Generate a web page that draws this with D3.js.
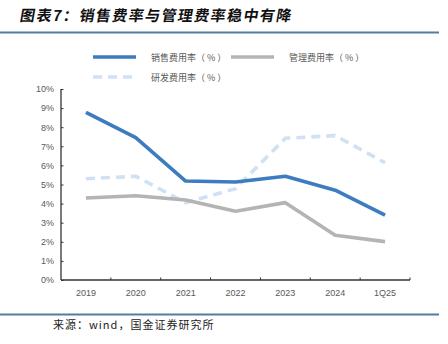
<!DOCTYPE html>
<html>
<head>
<meta charset="utf-8">
<script src="https://cdn.jsdelivr.net/npm/d3@7/dist/d3.min.js"></script>
<style>
  html, body { margin: 0; padding: 0; background: #fff; }
  svg { display: block; }
</style>
</head>
<body>
<svg id="chart" width="448" height="344"></svg>
<script>
// Expense ratios by year (%)
const categories = ["2019", "2020", "2021", "2022", "2023", "2024", "1Q25"];
const salesRate = [8.78, 7.45, 5.18, 5.13, 5.43, 4.70, 3.40];
const adminRate = [4.29, 4.41, 4.19, 3.60, 4.05, 2.34, 2.01];
const rdRate    = [5.30, 5.43, 4.05, 4.78, 7.42, 7.56, 6.14];
const yTicks = [0, 1, 2, 3, 4, 5, 6, 7, 8, 9, 10];

const seriesNames = ["销售费用率（ % ）", "管理费用率（ % ）", "研发费用率（ % ）"];
const seriesValues = [salesRate, adminRate, rdRate];
const seriesColors = ["#3d7cbf", "#b4b4b4", "#cfe1f3"];
const seriesDash = [null, null, "9,6"];

const svg = d3.select("#chart");
const cjk = "'Noto Sans CJK SC', 'Noto Sans', sans-serif";

// Header
svg.append("text")
  .attr("x", 20).attr("y", 21)
  .attr("font-family", cjk)
  .attr("font-size", 15)
  .attr("font-weight", "bold")
  .attr("letter-spacing", 1.4)
  .attr("fill", "#111")
  .attr("transform", "translate(3,0) skewX(-10)")
  .text("图表7：销售费率与管理费率稳中有降");
svg.append("line")
  .attr("x1", 0).attr("x2", 439).attr("y1", 32.5).attr("y2", 32.5)
  .attr("stroke", "#4f7f9b").attr("stroke-width", 2);

// Footer
svg.append("line")
  .attr("x1", 0).attr("x2", 439).attr("y1", 314.5).attr("y2", 314.5)
  .attr("stroke", "#4f7f9b").attr("stroke-width", 2);
svg.append("text")
  .attr("x", 53).attr("y", 328.5)
  .attr("font-family", "'Noto Sans CJK SC', sans-serif")
  .attr("font-size", 11)
  .attr("letter-spacing", 1)
  .attr("fill", "#222")
  .text("来源：wind，国金证券研究所");

// Plot area
const plotLeft = 61, plotRight = 410, plotTop = 89, plotBottom = 280;
const x = d3.scaleBand().domain(categories).range([plotLeft, plotRight]);
const y = d3.scaleLinear().domain([0, 10]).range([plotBottom, plotTop]);

const axisColor = "#333";
const tickColor = "#595959";

// Y axis
const yAxis = svg.append("g")
  .attr("transform", `translate(${plotLeft},0)`)
  .call(d3.axisLeft(y).tickValues(yTicks).tickSize(-2.5).tickPadding(7)
    .tickFormat(d => d + "%"));
yAxis.select(".domain").attr("stroke", axisColor).attr("stroke-width", 1.3)
  .attr("d", `M0,${plotTop}V${plotBottom}`);
yAxis.selectAll(".tick line").attr("stroke", axisColor);
yAxis.selectAll(".tick text")
  .attr("font-family", "'Liberation Sans', Arial, sans-serif")
  .attr("font-size", 9).attr("fill", tickColor);

// X axis
const xAxis = svg.append("g")
  .attr("transform", `translate(0,${plotBottom})`)
  .call(d3.axisBottom(x).tickSize(0).tickPadding(10));
xAxis.select(".domain").attr("stroke", axisColor).attr("stroke-width", 1.3)
  .attr("d", `M${plotLeft},0H${plotRight}`);
xAxis.selectAll(".tick text")
  .attr("font-family", "'Liberation Sans', Arial, sans-serif")
  .attr("font-size", 9).attr("fill", tickColor);
// Boundary tick marks between categories
svg.append("g").selectAll("line")
  .data(categories)
  .join("line")
  .attr("x1", d => x(d) + x.bandwidth()).attr("x2", d => x(d) + x.bandwidth())
  .attr("y1", plotBottom).attr("y2", plotBottom - 2.5)
  .attr("stroke", axisColor).attr("stroke-width", 1);

// Lines (dashed R&D first, then admin, then sales on top)
const line = d3.line()
  .x((d, i) => x(categories[i]) + x.bandwidth() / 2)
  .y(d => y(d));

[2, 1, 0].forEach(k => {
  svg.append("path")
    .datum(seriesValues[k])
    .attr("d", line)
    .attr("fill", "none")
    .attr("stroke", seriesColors[k])
    .attr("stroke-width", 3.6)
    .attr("stroke-linejoin", "round")
    .attr("stroke-dasharray", seriesDash[k]);
});

// Legend
const legendItems = [
  { k: 0, x: 93, y: 57 },
  { k: 1, x: 231, y: 57 },
  { k: 2, x: 93, y: 77 }
];
const legend = svg.append("g");
legendItems.forEach(it => {
  legend.append("line")
    .attr("x1", it.x).attr("x2", it.x + 43)
    .attr("y1", it.y).attr("y2", it.y)
    .attr("stroke", seriesColors[it.k])
    .attr("stroke-width", 3.6)
    .attr("stroke-dasharray", seriesDash[it.k]);
  legend.append("text")
    .attr("x", it.x + 58).attr("y", it.y + 3.5)
    .attr("font-family", cjk)
    .attr("font-size", 9)
    .attr("fill", tickColor)
    .text(seriesNames[it.k]);
});
</script>
</body>
</html>
